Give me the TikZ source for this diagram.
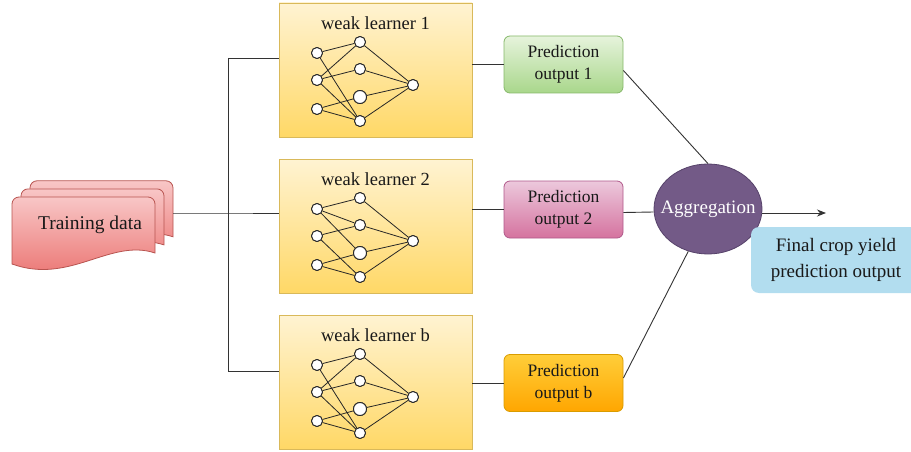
\documentclass[tikz,border=0pt]{standalone}
\usepackage{fontspec}
\setmainfont{Liberation Serif}
\usetikzlibrary{positioning,shapes.geometric,arrows.meta}

\definecolor{wire}{HTML}{333333}
\definecolor{learnertop}{HTML}{FFF3D2}
\definecolor{learnerbot}{HTML}{FFD866}
\definecolor{learnerline}{HTML}{D9B95A}
\definecolor{doctop}{HTML}{F8C6C6}
\definecolor{docbot}{HTML}{EA6E6B}
\definecolor{docline}{HTML}{B85450}
\definecolor{greentop}{HTML}{E6F3DC}
\definecolor{greenbot}{HTML}{A9D78B}
\definecolor{greenline}{HTML}{86B86A}
\definecolor{pinktop}{HTML}{ECC8DC}
\definecolor{pinkbot}{HTML}{D5739F}
\definecolor{pinkline}{HTML}{B0588A}
\definecolor{orangetop}{HTML}{FFCE3A}
\definecolor{orangebot}{HTML}{FFA600}
\definecolor{orangeline}{HTML}{D99C00}
\definecolor{aggfill}{HTML}{735A87}
\definecolor{aggline}{HTML}{56426A}
\definecolor{finalfill}{HTML}{B2DDEF}

\begin{document}
\begin{tikzpicture}[x=1pt,y=-1pt,
    wire/.style={draw=wire, line width=0.9pt},
    learner/.style={rectangle, draw=learnerline, line width=0.8pt,
        top color=learnertop, bottom color=learnerbot,
        minimum width=193pt, minimum height=134pt},
    lrntitle/.style={font=\fontsize{18.5}{21}\selectfont, text=black!90},
    neuron/.style={circle, draw=black!85, fill=white, line width=0.9pt,
        inner sep=0pt, minimum size=11pt},
    bigneuron/.style={neuron, minimum size=13pt},
    synapse/.style={draw=black!85, line width=0.8pt},
    datadoc/.style={draw=docline, line width=0.8pt,
        top color=doctop, bottom color=docbot},
    predbox/.style={rectangle, rounded corners=6pt, line width=0.8pt,
        minimum width=119pt, minimum height=57pt, align=center,
        font=\fontsize{17.5}{22}\selectfont, text=black!90},
    predgreen/.style={predbox, draw=greenline, top color=greentop, bottom color=greenbot},
    predpink/.style={predbox, draw=pinkline, top color=pinktop, bottom color=pinkbot},
    predorange/.style={predbox, draw=orangeline, top color=orangetop, bottom color=orangebot},
    aggnode/.style={ellipse, draw=aggline, fill=aggfill, line width=0.8pt,
        minimum width=108pt, minimum height=90pt, inner sep=0pt},
    aggtext/.style={text=white, font=\fontsize{19}{22}\selectfont},
    finalbox/.style={rectangle, rounded corners=8pt, fill=finalfill,
        minimum width=170pt, minimum height=66pt, align=center,
        font=\fontsize{19}{26}\selectfont, text=black!90}]
\useasboundingbox (0,0) rectangle (911,452);

% training data: three stacked documents
\foreach \d in {18,9,0}
    \draw[datadoc, shift={(\d,-\d*0.9)}] (12,262) [rounded corners=7pt]
        -- (12,197) -- (155,197) [sharp corners] -- (155,253)
        .. controls (110,238) and (70,285) .. (12,264) -- cycle;
\node[font=\fontsize{19.5}{22}\selectfont, text=black!90] (train) at (90,225) {Training data};
\coordinate (trainout) at (173,213);

% weak learners: boxes and neurons
\foreach \n/\top/\lab in {1/3/1, 2/159/2, 3/315/b} {
    \node[learner] (l\n) at (375.5,{\top+67}) {};
    \node[lrntitle] (t\n) at (375.5,{\top+20}) {weak learner \lab};
    \foreach \i/\yy in {1/50,2/77,3/106}
        \node[neuron] (l\n-i\i) at (317,{\top+\yy}) {};
    \node[neuron] (l\n-h1) at (360,{\top+39}) {};
    \node[neuron] (l\n-h2) at (360,{\top+66}) {};
    \node[bigneuron] (l\n-h3) at (360,{\top+94}) {};
    \node[neuron] (l\n-h4) at (360,{\top+118}) {};
    \node[neuron] (l\n-o) at (413,{\top+82}) {};
}
% synapses
\foreach \n in {1,3}
    \foreach \src/\dst in {1/1,1/4,2/1,2/2,2/4,3/3,3/4}
        \draw[synapse] (l\n-i\src) -- (l\n-h\dst);
\foreach \src/\dst in {1/1,1/2,1/3,2/2,2/4,3/3,3/4}
    \draw[synapse] (l2-i\src) -- (l2-h\dst);
\foreach \n in {1,2,3}
    \foreach \dst in {1,2,3,4}
        \draw[synapse] (l\n-h\dst) -- (l\n-o);
% redraw neurons on top of the synapses
\foreach \n/\top in {1/3, 2/159, 3/315} {
    \foreach \yy in {50,77,106}
        \node[neuron] at (317,{\top+\yy}) {};
    \node[neuron] at (360,{\top+39}) {};
    \node[neuron] at (360,{\top+66}) {};
    \node[bigneuron] at (360,{\top+94}) {};
    \node[neuron] at (360,{\top+118}) {};
    \node[neuron] at (413,{\top+82}) {};
}

% bus from the training data
\coordinate (busmid) at (228,213);
\coordinate (bustop) at (228,58);
\coordinate (busbot) at (228,371);
\draw[wire] (trainout) -- (busmid) -- (busmid -| l2.west);
\draw[wire] (bustop) -- (busbot);
\draw[wire] (bustop) -- (bustop -| l1.west);
\draw[wire] (busbot) -- (busbot -| l3.west);

% predictions
\node[predgreen] (p1) at (563.5,64.5) {Prediction\\output 1};
\node[predpink] (p2) at (563.5,209.5) {Prediction\\output 2};
\node[predorange] (p3) at (563.5,383) {Prediction\\output b};
\draw[wire] (l1.east |- p1.west) -- (p1.west);
\draw[wire] (l2.east |- p2.west) -- (p2.west);
\draw[wire] (l3.east |- p3.west) -- (p3.west);

% aggregation and final output
\node[aggnode] (agg) at (708,209) {};
\node[aggtext] (aggl) at (agg.center) {Aggregation};
\draw[wire] ([yshift=-6pt]p1.east) -- (agg.north);
\draw[wire] ([yshift=-3pt]p2.east) -- ([yshift=-3pt]agg.west);
\draw[wire] ([yshift=5pt]p3.east) -- (agg.245);
\coordinate (arrowend) at (826,213);
\draw[wire, -{Stealth[length=9pt,width=7pt]}] ([yshift=-4pt]agg.east) -- (arrowend);
\node[finalbox] (final) at (836,260) {Final crop yield\\prediction output};
\end{tikzpicture}
\end{document}
